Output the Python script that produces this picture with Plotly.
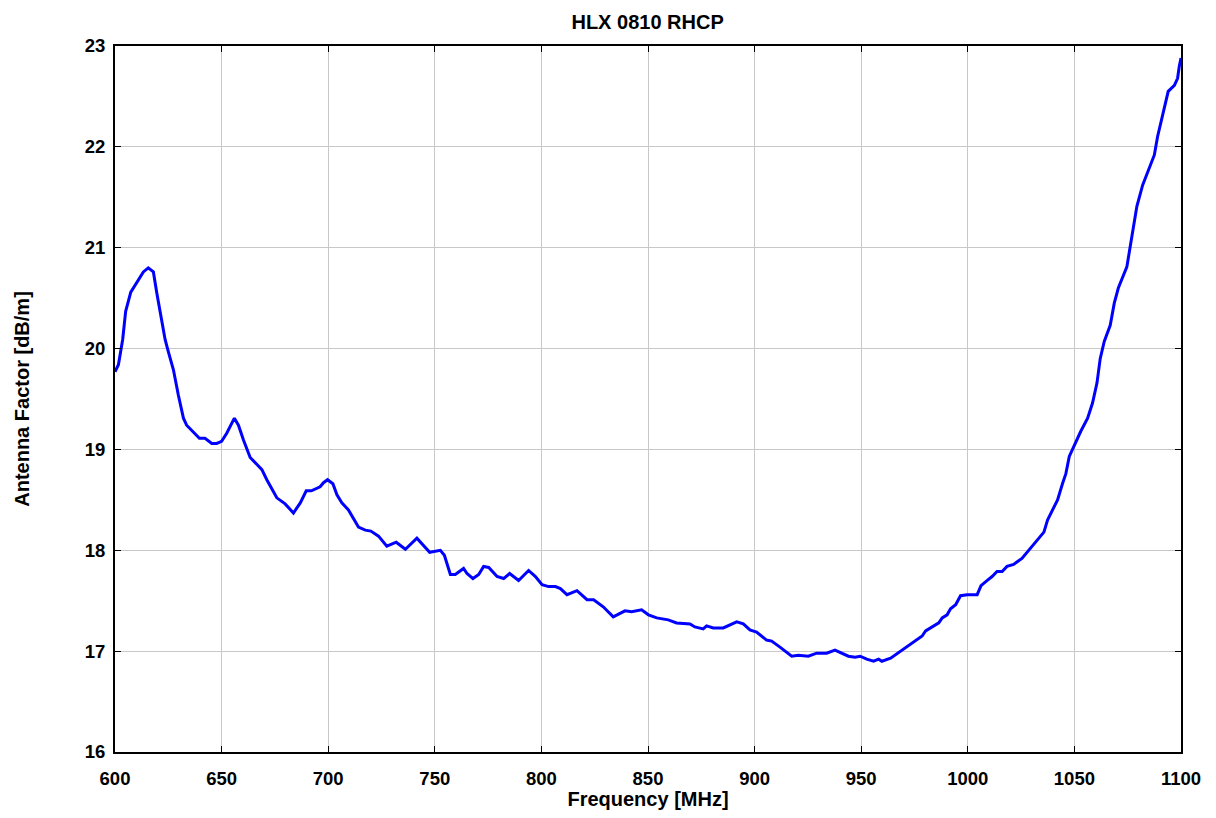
import plotly.graph_objects as go

freq_mhz = [600, 601.6, 603.6, 605, 607.4, 610.2, 613.3, 615.6, 618, 619.6, 621.5, 623.5, 625, 627.4,
            629.7, 632.1, 633.6, 636.8, 639.6, 642.2, 645.4, 647.7, 650, 652.4, 656, 657.9, 660.3,
            663.4, 666.5, 668.9, 671.2, 673.6, 675.9, 679.8, 683.7, 686.9, 689.7, 692.1, 694.7,
            696.2, 697.8, 699.7, 702.2, 704.1, 706.4, 709.5, 714.2, 717.4, 720, 723.6, 727.5,
            731.9, 736.2, 741.6, 747.6, 752.6, 754.5, 757.3, 759.6, 763.5, 765.1, 767.9, 770.6,
            772.9, 775.3, 779.2, 782.3, 785.1, 789.3, 794, 797.2, 800.3, 803.4, 806.6, 808.9,
            812, 816.7, 821.4, 824.5, 829, 833.7, 839.2, 842.3, 847, 850.2, 854.1, 859.5, 863.4,
            869.7, 872, 875.9, 877.5, 880.6, 885.3, 891.6, 894.7, 897.8, 900.9, 905.6, 908,
            911.9, 917.4, 920.5, 925.2, 929.1, 933.8, 937.7, 940, 944, 947.1, 949.5, 952.6,
            955.8, 958.2, 959.7, 963.8, 968.5, 973.2, 976.3, 978.6, 980.2, 983.3, 986.4, 988,
            990.3, 991.9, 994.3, 996.6, 999.7, 1004.4, 1006.2, 1009, 1011.4, 1013.7, 1016.1,
            1018.4, 1021.5, 1025.4, 1028.6, 1031, 1033.3, 1035.7, 1037.4, 1042.1, 1044.4, 1046,
            1047.6, 1049.9, 1053, 1056.2, 1058.5, 1060.6, 1062.1, 1064, 1066.8, 1068.7, 1070.6,
            1074.6, 1076.8, 1079.3, 1082, 1085.9, 1087.5, 1089, 1091.9, 1094, 1096.9, 1098.4,
            1099.2, 1100]

antenna_factor = [19.77, 19.84, 20.09, 20.37, 20.56, 20.66, 20.76, 20.80, 20.76, 20.55, 20.32, 20.09,
                  19.97, 19.79, 19.54, 19.31, 19.24, 19.17, 19.11, 19.11, 19.06, 19.06, 19.08, 19.16,
                  19.31, 19.24, 19.09, 18.92, 18.85, 18.80, 18.70, 18.60, 18.52, 18.46, 18.37, 18.47,
                  18.59, 18.59, 18.62, 18.63, 18.67, 18.70, 18.66, 18.55, 18.47, 18.40, 18.23, 18.20,
                  18.19, 18.14, 18.04, 18.08, 18.01, 18.12, 17.98, 18.00, 17.95, 17.76, 17.76, 17.82,
                  17.77, 17.72, 17.76, 17.84, 17.83, 17.74, 17.72, 17.77, 17.70, 17.80, 17.74, 17.66,
                  17.64, 17.64, 17.62, 17.56, 17.60, 17.51, 17.51, 17.44, 17.34, 17.40, 17.39, 17.41,
                  17.36, 17.33, 17.31, 17.28, 17.27, 17.24, 17.22, 17.25, 17.23, 17.23, 17.29, 17.27,
                  17.21, 17.19, 17.11, 17.10, 17.04, 16.95, 16.96, 16.95, 16.98, 16.98, 17.01, 16.99,
                  16.95, 16.94, 16.95, 16.92, 16.90, 16.92, 16.90, 16.93, 17.00, 17.07, 17.12, 17.15,
                  17.20, 17.24, 17.28, 17.33, 17.36, 17.42, 17.46, 17.55, 17.56, 17.56, 17.65, 17.70,
                  17.74, 17.79, 17.79, 17.84, 17.86, 17.92, 18.00, 18.06, 18.11, 18.18, 18.30, 18.50,
                  18.66, 18.76, 18.93, 19.04, 19.18, 19.31, 19.46, 19.66, 19.90, 20.07, 20.23, 20.45,
                  20.60, 20.81, 21.11, 21.41, 21.62, 21.84, 21.92, 22.10, 22.35, 22.55, 22.61, 22.68,
                  22.80, 22.88]

x_ticks = [600, 650, 700, 750, 800, 850, 900, 950, 1000, 1050, 1100]
y_ticks = [16, 17, 18, 19, 20, 21, 22, 23]

fig = go.Figure()
fig.add_trace(go.Scatter(x=freq_mhz, y=antenna_factor, mode="lines",
                         line=dict(color="#0000ff", width=3), showlegend=False))

font_family = "Liberation Sans, Arial, sans-serif"
axis_common = dict(
    showgrid=True, gridcolor="#c8c8c8", gridwidth=1.3,
    showline=True, linecolor="black", linewidth=2, mirror="ticks",
    ticks="inside", ticklen=6, tickcolor="black", tickwidth=1,
    zeroline=False, automargin=False,
    tickfont=dict(family=font_family, size=18.5, color="black", weight="bold"),
)

fig.update_layout(
    width=1200, height=802,
    margin=dict(l=107, r=27, t=38, b=58),
    paper_bgcolor="white", plot_bgcolor="white",
    title=dict(text="<b>HLX 0810 RHCP</b>", x=0.533, xanchor="center", y=0.983, yanchor="middle",
               font=dict(family=font_family, size=20, color="black")),
    xaxis=dict(range=[600, 1100], tickvals=x_ticks, ticktext=[str(v) for v in x_ticks],
               title=dict(text="<b>Frequency [MHz]</b>", standoff=13,
                          font=dict(family=font_family, size=20, color="black")),
               ticklabelstandoff=9, **axis_common),
    yaxis=dict(range=[16, 23], tickvals=y_ticks, ticktext=[str(v) for v in y_ticks],
               title=dict(text="<b>Antenna Factor [dB/m]</b>", standoff=50,
                          font=dict(family=font_family, size=20, color="black")),
               ticklabelstandoff=4, **axis_common),
)

fig.write_html("out.html")
